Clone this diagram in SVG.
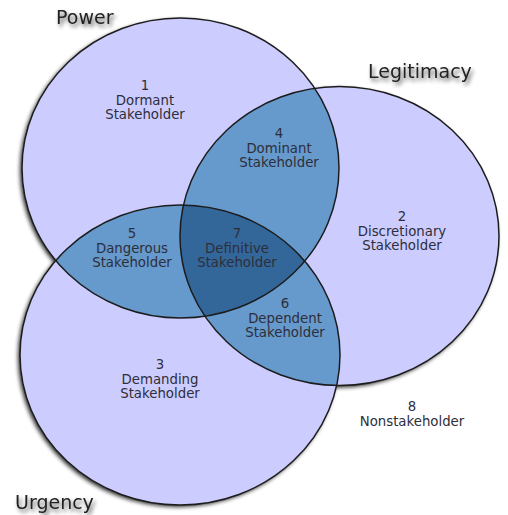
<svg xmlns="http://www.w3.org/2000/svg" width="508" height="515" viewBox="0 0 508 515">
<defs>
<style>
.lbl{font-family:"DejaVu Sans","Liberation Sans",sans-serif;font-size:13.3px;fill:#2e2e3a;text-anchor:middle}
.ttl{font-family:"DejaVu Sans","Liberation Sans",sans-serif;font-size:19px;fill:#222}
.edge{fill:none;stroke:#1c1c1c;stroke-width:1.5}
</style>
<filter id="sh" x="-10%" y="-10%" width="120%" height="120%">
<feGaussianBlur in="SourceAlpha" stdDeviation="2.2"/>
<feOffset dx="-2.5" dy="2" result="b"/>
<feComponentTransfer><feFuncA type="linear" slope="0.85"/></feComponentTransfer>
<feMerge><feMergeNode/><feMergeNode in="SourceGraphic"/></feMerge>
</filter>
<filter id="tsh" x="-20%" y="-40%" width="140%" height="180%">
<feGaussianBlur in="SourceAlpha" stdDeviation="2"/>
<feOffset dx="1.5" dy="2.5"/>
<feComponentTransfer><feFuncA type="linear" slope="0.65"/></feComponentTransfer>
<feMerge><feMergeNode/><feMergeNode in="SourceGraphic"/></feMerge>
</filter>
<clipPath id="cP"><ellipse cx="180.5" cy="168" rx="158.5" ry="150"/></clipPath>
<clipPath id="cL"><ellipse cx="339.5" cy="236" rx="159.5" ry="149.5"/></clipPath>
<clipPath id="cU"><ellipse cx="180" cy="355" rx="160" ry="150"/></clipPath>
</defs>
<rect width="508" height="515" fill="#fff"/>
<g id="circles" filter="url(#sh)" fill="#ccccff">
<ellipse id="power" cx="180.5" cy="168" rx="158.5" ry="150"/>
<ellipse id="legitimacy" cx="339.5" cy="236" rx="159.5" ry="149.5"/>
<ellipse id="urgency" cx="180" cy="355" rx="160" ry="150"/>
</g>
<g id="overlaps" fill="#6699cc">
<ellipse clip-path="url(#cP)" cx="339.5" cy="236" rx="159.5" ry="149.5"/>
<ellipse clip-path="url(#cP)" cx="180" cy="355" rx="160" ry="150"/>
<ellipse clip-path="url(#cL)" cx="180" cy="355" rx="160" ry="150"/>
<g clip-path="url(#cP)"><ellipse clip-path="url(#cL)" cx="180" cy="355" rx="160" ry="150" fill="#336699"/></g>
</g>
<g id="outlines">
<ellipse class="edge" cx="180.5" cy="168" rx="158.5" ry="150"/>
<ellipse class="edge" cx="339.5" cy="236" rx="159.5" ry="149.5"/>
<ellipse class="edge" cx="180" cy="355" rx="160" ry="150"/>
</g>
<g id="titles" filter="url(#tsh)">
<text class="ttl" x="56" y="24">Power</text>
<text class="ttl" x="368" y="78">Legitimacy</text>
<text class="ttl" x="15" y="509">Urgency</text>
</g>
<g id="r1"><text class="lbl" x="145" y="90">1</text><text class="lbl" x="145" y="104.5">Dormant</text><text class="lbl" x="145" y="119">Stakeholder</text></g>
<g id="r4"><text class="lbl" x="279" y="138">4</text><text class="lbl" x="279" y="152.5">Dominant</text><text class="lbl" x="279" y="167">Stakeholder</text></g>
<g id="r2"><text class="lbl" x="402" y="221">2</text><text class="lbl" x="402" y="235.5">Discretionary</text><text class="lbl" x="402" y="250">Stakeholder</text></g>
<g id="r5"><text class="lbl" x="132" y="238">5</text><text class="lbl" x="132" y="252.5">Dangerous</text><text class="lbl" x="132" y="267">Stakeholder</text></g>
<g id="r7"><text class="lbl" x="237" y="238">7</text><text class="lbl" x="237" y="252.5">Definitive</text><text class="lbl" x="237" y="267">Stakeholder</text></g>
<g id="r6"><text class="lbl" x="285" y="308">6</text><text class="lbl" x="285" y="322.5">Dependent</text><text class="lbl" x="285" y="337">Stakeholder</text></g>
<g id="r3"><text class="lbl" x="160" y="369">3</text><text class="lbl" x="160" y="383.5">Demanding</text><text class="lbl" x="160" y="398">Stakeholder</text></g>
<g id="r8"><text class="lbl" x="412" y="411">8</text><text class="lbl" x="412" y="426">Nonstakeholder</text></g>
</svg>
